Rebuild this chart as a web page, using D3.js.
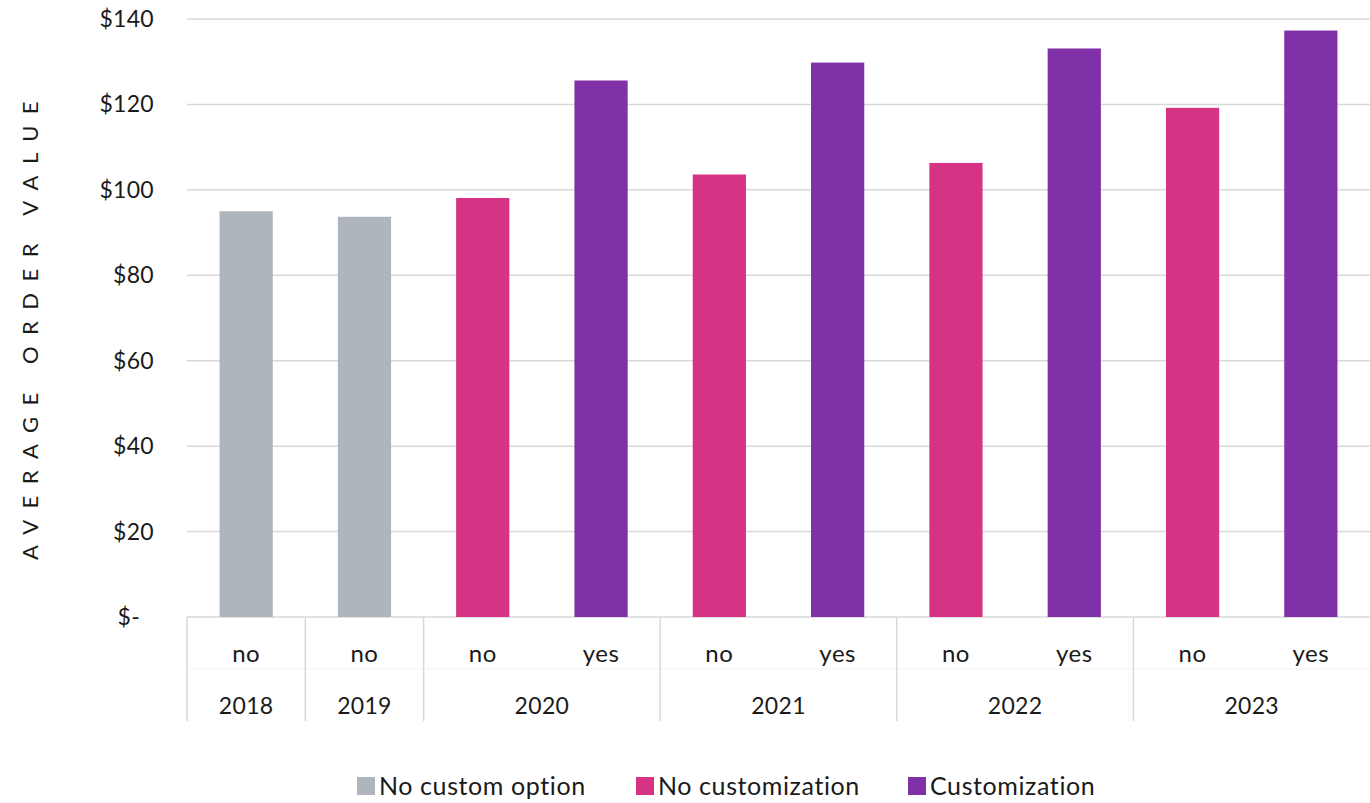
<!DOCTYPE html>
<html><head><meta charset="utf-8">
<script src="https://cdn.jsdelivr.net/npm/d3@7"></script>
<style>body{margin:0;background:#fff}svg{display:block}text{font-family:Lato,"Open Sans",sans-serif;fill:#1a1a1a}</style>
</head><body><svg id="c" width="1370" height="803"></svg>
<script>
const years = ["2018","2019","2020","2020","2021","2021","2022","2022","2023","2023"];
const custom = ["no","no","no","yes","no","yes","no","yes","no","yes"];
const series = ["No custom option","No customization","Customization"];
const seriesOf = [0,0,1,2,1,2,1,2,1,2];
const values = [95.0,93.7,98.1,125.6,103.6,129.8,106.3,133.1,119.2,137.3];
const yTicks = [0,20,40,60,80,100,120,140];
const yTickLabels = ["$-","$20","$40","$60","$80","$100","$120","$140"];
const colors = ["#aeb5bc","#d63384","#8031a7"];

const svg = d3.select("#c");
const L=187, R=1370, T=19, B=617;
const idx = d3.range(values.length);
const x = d3.scaleBand().domain(idx).range([L,R]).paddingInner(0.55).paddingOuter(0.275);
const y = d3.scaleLinear().domain([0,140]).range([B,T]);

svg.append("g").selectAll("line").data(yTicks).join("line")
  .attr("x1",L).attr("x2",R).attr("y1",d=>y(d)).attr("y2",d=>y(d))
  .attr("stroke","#d9d9d9").attr("stroke-width",1.5);

svg.append("g").selectAll("text").data(yTicks).join("text")
  .attr("x",d=>d===0?140:154).attr("y",d=>y(d)).attr("dy","0.35em")
  .attr("text-anchor","end").attr("font-size",23).attr("letter-spacing","0.3px").text((d,i)=>yTickLabels[i]);

svg.append("g").selectAll("rect").data(idx).join("rect")
  .attr("x",i=>x(i)).attr("width",x.bandwidth())
  .attr("y",i=>y(values[i])).attr("height",i=>y(0)-y(values[i]))
  .attr("fill",i=>colors[seriesOf[i]]);

const step = x.step();
const left = i => L + i*step;
const groups = [];
years.forEach((yr,i)=>{ if(!groups.length||groups[groups.length-1].yr!==yr) groups.push({yr,start:i,end:i}); else groups[groups.length-1].end=i; });
// faint separator between the two label rows
svg.append("line").attr("x1",L).attr("x2",R).attr("y1",669).attr("y2",669)
  .attr("stroke","#f3f3f3").attr("stroke-width",1);
svg.append("g").selectAll("line").data(groups.map(g=>g.start)).join("line")
  .attr("x1",b=>left(b)).attr("x2",b=>left(b)).attr("y1",B).attr("y2",721)
  .attr("stroke","#d9d9d9").attr("stroke-width",1.5);
svg.append("g").selectAll("text").data(idx).join("text")
  .attr("x",i=>x(i)+x.bandwidth()/2).attr("y",654).attr("dy","0.35em")
  .attr("text-anchor","middle").attr("font-size",24).attr("letter-spacing","0.5px").text(i=>custom[i]);
svg.append("g").selectAll("text").data(groups).join("text")
  .attr("x",g=>(left(g.start)+left(g.end+1))/2).attr("y",706).attr("dy","0.35em")
  .attr("text-anchor","middle").attr("font-size",23).attr("letter-spacing","0.3px").text(g=>g.yr);

svg.append("text").attr("transform","translate(30,325) rotate(-90)")
  .attr("text-anchor","middle").attr("dy","0.35em").attr("font-size",22)
  .attr("letter-spacing","11.5px").text("AVERAGE ORDER VALUE");

const legX = [357,636,908];
const lg = svg.append("g").selectAll("g").data(series).join("g")
  .attr("transform",(d,i)=>`translate(${legX[i]},777)`);
lg.append("rect").attr("width",18).attr("height",18).attr("fill",(d,i)=>colors[i]);
lg.append("text").attr("x",22).attr("y",9).attr("dy","0.35em").attr("font-size",25).attr("letter-spacing","0.6px").text(d=>d);
</script></body></html>
